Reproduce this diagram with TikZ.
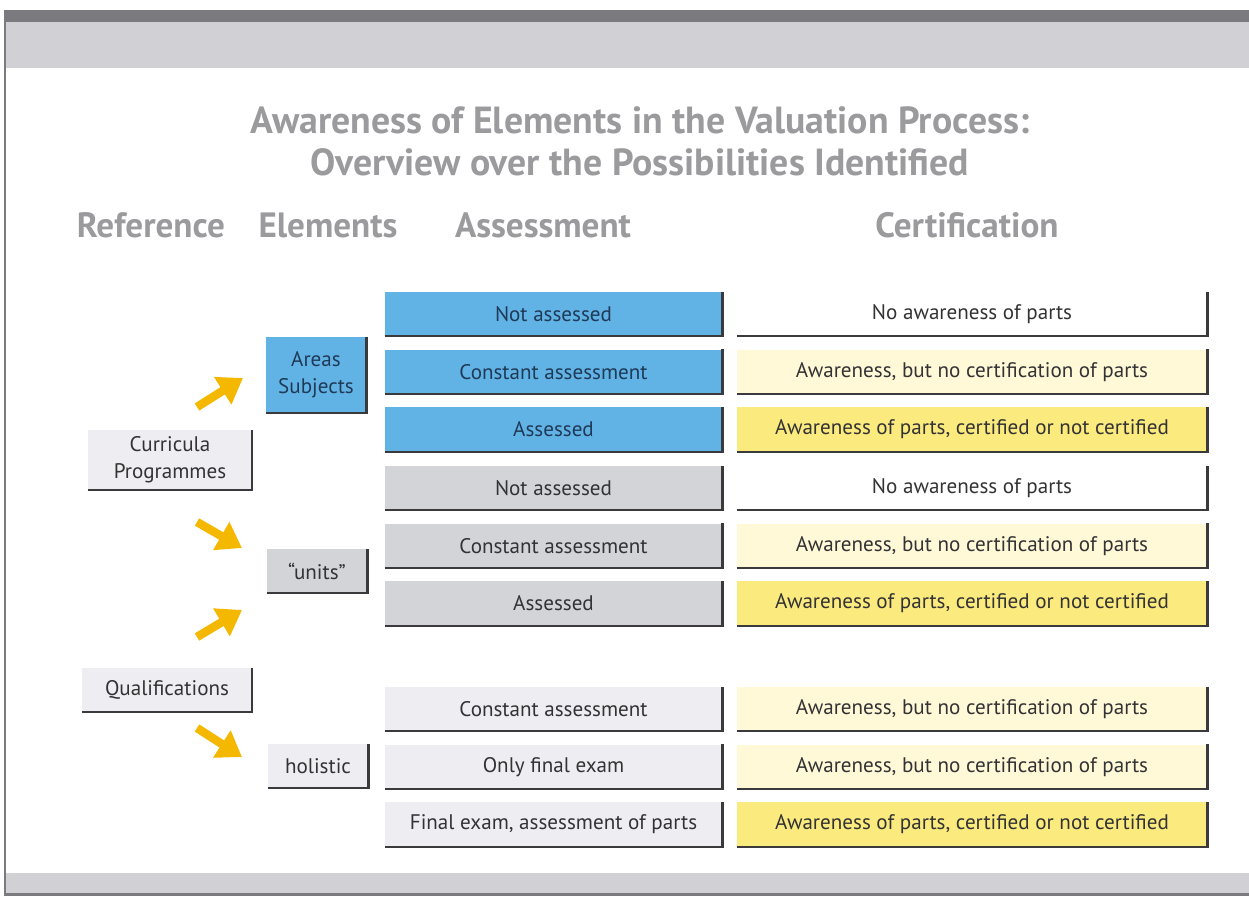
\documentclass[tikz,border=0pt]{standalone}
\usepackage{fontspec}
\setmainfont{PT Sans}
\usepackage{xcolor}
\usepackage{tikz}
\usetikzlibrary{chains,positioning,arrows.meta}

\definecolor{headgray}{HTML}{9B9B9E}
\definecolor{bandgray}{HTML}{D1D1D5}
\definecolor{banddark}{HTML}{7A7A7F}
\definecolor{shadowgray}{HTML}{3A3A3C}
\definecolor{boxblue}{HTML}{62B3E5}
\definecolor{boxgray}{HTML}{D3D4D8}
\definecolor{boxlight}{HTML}{EEEEF2}
\definecolor{certpale}{HTML}{FFF9D8}
\definecolor{certyellow}{HTML}{FBEA7E}
\definecolor{arrowyellow}{HTML}{F5B800}
\definecolor{textgray}{HTML}{333335}
\definecolor{textnavy}{HTML}{1F3A57}

\begin{document}
\begin{tikzpicture}

        \useasboundingbox (0,0) rectangle (24.98,17.92);

        \tikzstyle{valbox}=[minimum height=0.88cm,inner sep=2pt,text=textgray,font=\fontsize{12}{15.5}\selectfont]
        \tikzstyle{asbox}=[valbox,minimum width=6.74cm]
        \tikzstyle{certbox}=[valbox,minimum width=9.4cm]
        \tikzstyle{elbox}=[valbox,minimum width=2.0cm,align=center]
        \tikzstyle{headline}=[text=headgray,font=\fontsize{20}{24}\selectfont\bfseries]
        \tikzstyle{shadowline}=[draw=shadowgray,line width=1.3pt]
        \tikzstyle{yarrow}=[draw=arrowyellow,line width=0.17cm,-{Triangle[length=0.48cm,width=0.62cm]}]

        %% Frame bands
        \fill[bandgray] (0.1,16.56) rectangle (24.98,17.48);
        \fill[banddark] (0.1,17.48) rectangle (24.98,17.72);
        \fill[bandgray] (0.1,0.06) rectangle (24.98,0.46);
        \fill[banddark] (0.1,0) rectangle (24.98,0.06);
        \draw[banddark,line width=0.6pt] (0.1,0) -- (0.1,17.72);

        %% Title and column heads
        \node[headline,align=center,font=\fontsize{21.5}{24}\selectfont\bfseries] (title) at (12.8,15.1)
            {Awareness of Elements in the Valuation Process:\\Overview over the Possibilities Identified};
        \node[headline] (hreference) at (3.02,13.42) {Reference};
        \node[headline] (helements) at (6.56,13.42) {Elements};
        \node[headline] (hassessment) at (10.86,13.42) {Assessment};
        \node[headline] (hcertification) at (19.34,13.42) {Certification};

        %% Reference and elements
        \node[elbox,fill=boxlight,minimum width=3.28cm,minimum height=1.2cm] (curricula) at (3.4,8.72) {Curricula\\Programmes};
        \node[elbox,fill=boxlight,minimum width=3.4cm] (qualifications) at (3.34,4.12) {Qualifications};
        \node[elbox,fill=boxblue,text=textnavy,minimum height=1.52cm] (areas) at (6.32,10.42) {Areas\\Subjects};
        \node[elbox,fill=boxgray] (units) at (6.34,6.5) {``units''};
        \node[elbox,fill=boxlight] (holistic) at (6.36,2.6) {holistic};

        %% Assessment column
        \begin{scope}[start chain=1 going below,node distance=0.26cm]
            \node [on chain=1,asbox,fill=boxblue,text=textnavy] (as1) at (11.07,11.64) {Not assessed};
            \node [on chain=1,asbox,fill=boxblue,text=textnavy] (as2) {Constant assessment};
            \node [on chain=1,asbox,fill=boxblue,text=textnavy] (as3) {Assessed};
        \end{scope}
        \begin{scope}[start chain=2 going below,node distance=0.26cm]
            \node [on chain=2,asbox,fill=boxgray] (as4) at (11.07,8.16) {Not assessed};
            \node [on chain=2,asbox,fill=boxgray] (as5) {Constant assessment};
            \node [on chain=2,asbox,fill=boxgray] (as6) {Assessed};
        \end{scope}
        \begin{scope}[start chain=3 going below,node distance=0.26cm]
            \node [on chain=3,asbox,fill=boxlight] (as7) at (11.07,3.74) {Constant assessment};
            \node [on chain=3,asbox,fill=boxlight] (as8) {Only final exam};
            \node [on chain=3,asbox,fill=boxlight] (as9) {Final exam, assessment of parts};
        \end{scope}

        %% Certification column
        \begin{scope}[start chain=4 going below,node distance=0.26cm]
            \node [on chain=4,certbox,fill=white] (ce1) at (19.44,11.64) {No awareness of parts};
            \node [on chain=4,certbox,fill=certpale] (ce2) {Awareness, but no certification of parts};
            \node [on chain=4,certbox,fill=certyellow] (ce3) {Awareness of parts, certified or not certified};
        \end{scope}
        \begin{scope}[start chain=5 going below,node distance=0.26cm]
            \node [on chain=5,certbox,fill=white] (ce4) at (19.44,8.16) {No awareness of parts};
            \node [on chain=5,certbox,fill=certpale] (ce5) {Awareness, but no certification of parts};
            \node [on chain=5,certbox,fill=certyellow] (ce6) {Awareness of parts, certified or not certified};
        \end{scope}
        \begin{scope}[start chain=6 going below,node distance=0.26cm]
            \node [on chain=6,certbox,fill=certpale] (ce7) at (19.44,3.74) {Awareness, but no certification of parts};
            \node [on chain=6,certbox,fill=certpale] (ce8) {Awareness, but no certification of parts};
            \node [on chain=6,certbox,fill=certyellow] (ce9) {Awareness of parts, certified or not certified};
        \end{scope}

        %% Box shadows
        \foreach \b in {curricula,qualifications,areas,units,holistic,as1,as2,as3,as4,as5,as6,as7,as8,as9,ce1,ce2,ce3,ce4,ce5,ce6,ce7,ce8,ce9}
            \draw[shadowline] (\b.south west) -- (\b.south east) -- (\b.north east);

        %% Yellow arrows
        \coordinate (a1tail) at (3.94,9.78);
        \coordinate (a1tip) at (4.86,10.36);
        \coordinate (a2tail) at (3.94,7.48);
        \coordinate (a2tip) at (4.84,6.96);
        \coordinate (a3tail) at (3.94,5.18);
        \coordinate (a3tip) at (4.84,5.72);
        \coordinate (a4tail) at (3.94,3.36);
        \coordinate (a4tip) at (4.84,2.78);
        \foreach \n in {1,2,3,4}
            \draw[yarrow] (a\n tail) -- (a\n tip);

\end{tikzpicture}
\end{document}
